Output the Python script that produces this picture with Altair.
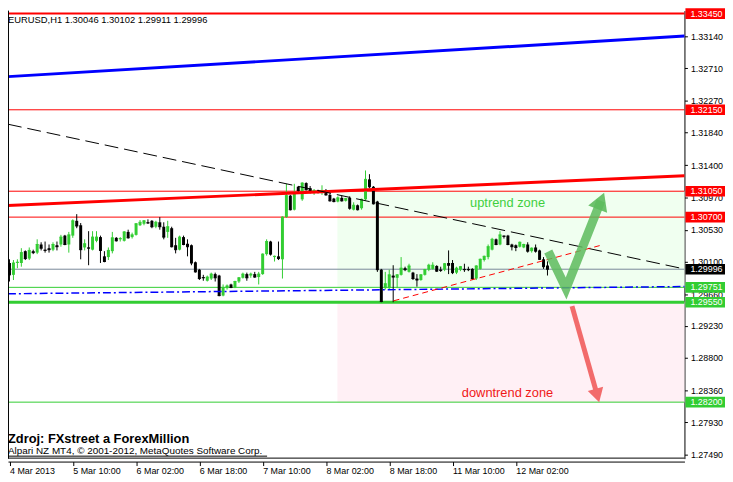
import json
import altair as alt
import pandas as pd

# ---------------- data ----------------
opens = [1.3008,1.2992,1.3008,1.3008,1.3024,1.3014,1.3024,1.3022,1.3033,1.3026,
         1.3028,1.3026,1.3032,1.3033,1.3045,1.3033,1.3045,1.3065,1.3059,1.3029,
         1.3029,1.3026,1.3038,1.3043,1.3017,1.3016,1.3024,1.3042,1.3040,1.3038,
         1.3050,1.3043,1.3046,1.3059,1.3061,1.3063,1.3065,1.3057,1.3063,1.3057,
         1.3050,1.3055,1.3032,1.3026,1.3043,1.3034,1.3032,1.3009,1.2999,1.2989,
         1.2984,1.2987,1.2993,1.2991,1.2964,1.2974,1.2979,1.2975,1.2983,1.2988,
         1.2993,1.2991,1.2993,1.2989,1.2993,1.3020,1.3037,1.3016,1.3017,1.3013,
         1.3070,1.3099,1.3080,1.3111,1.3094,1.3116,1.3109,1.3104,1.3106,1.3103,
         1.3106,1.3100,1.3095,1.3091,1.3096,1.3092,1.3096,1.3080,1.3086,1.3082,
         1.3094,1.3121,1.3111,1.3091,1.2999,1.2974,1.2974,1.2991,1.2988,1.2992,
         1.3001,1.2996,1.2995,1.2987,1.2985,1.2992,1.2999,1.3000,1.3004,1.2999,
         1.2999,1.3008,1.3008,1.2995,1.2999,1.3000,1.3000,1.3000,1.2987,1.3000,
         1.3012,1.3016,1.3026,1.3040,1.3033,1.3045,1.3045,1.3033,1.3032,1.3030,
         1.3029,1.3033,1.3024,1.3029,1.3025,1.3013,1.30046]
highs = [1.3013,1.3012,1.3013,1.3028,1.3025,1.3029,1.3026,1.3040,1.3036,1.3037,
         1.3033,1.3036,1.3037,1.3046,1.3046,1.3050,1.3067,1.3074,1.3062,1.3040,
         1.3051,1.3051,1.3051,1.3045,1.3024,1.3029,1.3050,1.3043,1.3043,1.3051,
         1.3053,1.3049,1.3062,1.3066,1.3066,1.3067,1.3066,1.3065,1.3070,1.3063,
         1.3065,1.3057,1.3042,1.3045,1.3045,1.3040,1.3033,1.3010,1.3000,1.2992,
         1.2991,1.2995,1.2995,1.2992,1.2979,1.2979,1.2980,1.2984,1.2989,1.2995,
         1.2995,1.2995,1.2996,1.2996,1.3021,1.3040,1.3038,1.3018,1.3037,1.3071,
         1.3115,1.3100,1.3115,1.3112,1.3117,1.3117,1.3112,1.3108,1.3107,1.3113,
         1.3108,1.3102,1.3096,1.3098,1.3099,1.3096,1.3098,1.3090,1.3087,1.3095,
         1.3133,1.3128,1.3112,1.3092,1.3000,1.2996,1.2999,1.3005,1.2993,1.3016,
         1.3003,1.3007,1.2996,1.2993,1.2993,1.3000,1.3007,1.3009,1.3005,1.3003,
         1.3008,1.3025,1.3012,1.3003,1.3004,1.3007,1.3003,1.3001,1.3005,1.3014,
         1.3018,1.3033,1.3042,1.3041,1.3051,1.3045,1.3046,1.3034,1.3033,1.3037,
         1.3034,1.3036,1.3029,1.3033,1.3026,1.3016,1.30102]
lows = [1.2983,1.2985,1.3001,1.3003,1.3012,1.3012,1.3020,1.3020,1.3025,1.3022,
        1.3022,1.3024,1.3025,1.3030,1.3032,1.3022,1.3042,1.3055,1.3013,1.3025,
        1.3005,1.3025,1.3036,1.3008,1.3009,1.3012,1.3021,1.3037,1.3037,1.3037,
        1.3041,1.3041,1.3045,1.3058,1.3059,1.3061,1.3055,1.3055,1.3053,1.3040,
        1.3042,1.3029,1.3021,1.3025,1.3032,1.3017,1.3005,1.2995,1.2985,1.2984,
        1.2983,1.2985,1.2983,1.2963,1.2963,1.2972,1.2974,1.2974,1.2981,1.2987,
        1.2984,1.2988,1.2988,1.2979,1.2992,1.3018,1.3018,1.3010,1.3012,1.2987,
        1.3069,1.3079,1.3079,1.3102,1.3092,1.3106,1.3102,1.3100,1.3102,1.3100,
        1.3099,1.3091,1.3090,1.3090,1.3091,1.3091,1.3080,1.3079,1.3079,1.3080,
        1.3092,1.3109,1.3087,1.2996,1.2955,1.2972,1.2972,1.2955,1.2974,1.2991,
        1.2997,1.2995,1.2985,1.2976,1.2984,1.2991,1.2997,1.2999,1.2996,1.2996,
        1.2997,1.2993,1.2993,1.2993,1.2997,1.2996,1.2997,1.2985,1.2985,1.2999,
        1.3010,1.3013,1.3025,1.3032,1.3032,1.3041,1.3032,1.3025,1.3024,1.3029,
        1.3028,1.3022,1.3022,1.3022,1.3012,1.3000,1.29911]
closes = [1.2992,1.3008,1.3009,1.3022,1.3014,1.3025,1.3022,1.3033,1.3028,1.3025,
          1.3026,1.3033,1.3030,1.3043,1.3033,1.3046,1.3065,1.3058,1.3026,1.3034,
          1.3028,1.3043,1.3043,1.3025,1.3010,1.3025,1.3042,1.3038,1.3041,1.3050,
          1.3042,1.3046,1.3061,1.3063,1.3065,1.3062,1.3057,1.3063,1.3057,1.3043,
          1.3057,1.3030,1.3026,1.3043,1.3033,1.3030,1.3008,1.2996,1.2987,1.2988,
          1.2989,1.2993,1.2988,1.2964,1.2975,1.2977,1.2975,1.2983,1.2988,1.2993,
          1.2988,1.2993,1.2989,1.2993,1.3020,1.3037,1.3020,1.3017,1.3014,1.3070,
          1.3099,1.3080,1.3103,1.3106,1.3116,1.3107,1.3106,1.3106,1.3104,1.3106,
          1.3100,1.3092,1.3091,1.3096,1.3092,1.3095,1.3082,1.3086,1.3080,1.3094,
          1.3121,1.3111,1.3088,1.2999,1.2956,1.2980,1.2992,1.2989,1.2992,1.3001,
          1.2999,1.3004,1.2987,1.2985,1.2992,1.2999,1.3005,1.3005,1.2997,1.2998,
          1.3007,1.3005,1.2995,1.3001,1.3003,1.2999,1.2999,1.2987,1.3004,1.3013,
          1.3017,1.3030,1.3040,1.3033,1.3046,1.3044,1.3033,1.3030,1.3029,1.3036,
          1.3033,1.3024,1.3028,1.3024,1.3013,1.3003,1.29996]

x_tick_pos = [0, 16, 32, 48, 64, 80, 96, 112, 128]
x_tick_labels = ["4 Mar 2013", "5 Mar 10:00", "6 Mar 02:00", "6 Mar 18:00", "7 Mar 10:00",
                 "8 Mar 02:00", "8 Mar 18:00", "11 Mar 10:00", "12 Mar 02:00"]
y_tick_values = [1.33140, 1.32710, 1.32270, 1.31840, 1.31400, 1.30970, 1.30530,
                 1.30100, 1.29660, 1.29230, 1.28800, 1.28360, 1.27930, 1.27490]

level_prices = [1.33450, 1.32150, 1.31050, 1.30700, 1.29996, 1.29751, 1.29550, 1.28200]
level_colors = ["#FF0000", "#FF0000", "#FF0000", "#FF0000", "#778899", "#32CD32", "#32CD32", "#32CD32"]
level_widths = [2, 1, 1, 1, 1, 1, 3, 1]
box_colors = ["#FF0000", "#FF0000", "#FF0000", "#FF0000", "#000000", "#32CD32", "#32CD32", "#32CD32"]

line_x1 = [-0.375, -0.375, -0.375, -0.375, 97.1]
line_p1 = [1.32598, 1.30856, 1.31955, 1.29664, 1.29569]
line_x2 = [170.625, 170.625, 170.625, 170.625, 149.2]
line_p2 = [1.33146, 1.31259, 1.29999, 1.29762, 1.30315]
line_colors = ["#0000FF", "#FF0000", "#000000", "#0000FF", "#FF0000"]
line_widths = [3, 3, 1, 1.5, 1]
line_dashes = [None, None, [14, 6], [8, 3, 2, 3], [6, 4]]

zone_x1 = [82.9, 82.9]
zone_x2 = [170.625, 170.625]
zone_top = [1.31050, 1.29550]
zone_bottom = [1.29751, 1.28200]
zone_colors = ["#F0FFF0", "#FFF0F5"]
zone_labels = ["uptrend zone", "downtrend zone"]
zone_label_x = [125.9, 125.9]
zone_label_p = [1.30896, 1.28322]
zone_label_colors = ["#3ECF3E", "#F01818"]

v_idx = [136.2, 140.7, 149.5]
v_price = [1.30236, 1.29735, 1.30918]
r_idx = [142.2, 148.6]
r_price = [1.29497, 1.28290]

header = "EURUSD,H1  1.30046 1.30102 1.29911 1.29996"
source_text = "Zdroj: FXstreet a ForexMillion"
credit_text = "Alpari NZ MT4, \u00a9 2001-2012, MetaQuotes Software Corp."

# ---------------- chart ----------------
FONT = "Liberation Sans"
W, H = 684, 453
XS = alt.Scale(domain=[-0.375, 170.625], nice=False, zero=False)
YS = alt.Scale(domain=[1.27437, 1.33490], nice=False, zero=False)

x_axis = alt.Axis(values=x_tick_pos,
                  labelExpr=f"{json.dumps(x_tick_labels)}[indexof({json.dumps(x_tick_pos)}, datum.value)]",
                  orient="bottom", offset=3, tickSize=4, tickColor="black", domainColor="black",
                  labelColor="black", labelFont=FONT, labelFontSize=9, labelAlign="left", labelPadding=1,
                  labelFlush=False, labelOverlap=False, grid=False, title=None, zindex=0)
y_axis = alt.Axis(values=y_tick_values, format=".5f", orient="right", tickSize=3, tickColor="black",
                  domainColor="black", labelColor="black", labelFont=FONT, labelFontSize=9, labelPadding=3,
                  labelFlush=False, labelOverlap=False, grid=False, title=None, zindex=0)


def X(f):
    return alt.X(f, type="quantitative", scale=XS, axis=x_axis)


def Y(f):
    return alt.Y(f, type="quantitative", scale=YS, axis=y_axis)


candles = pd.DataFrame({"i": list(range(len(opens))), "o": opens, "h": highs, "l": lows, "c": closes})
candles["col"] = ["#32CD32" if c > o else "#000000" for o, c in zip(opens, closes)]

layers = []

zones = pd.DataFrame({"x1": zone_x1, "x2": zone_x2, "top": zone_top, "bot": zone_bottom, "col": zone_colors})
layers.append(alt.Chart(zones).mark_rect().encode(
    x=X("x1"), x2=alt.X2("x2"), y=Y("top"), y2=alt.Y2("bot"), color=alt.Color("col:N", scale=None)))

zl = pd.DataFrame({"x": zone_label_x, "p": zone_label_p, "t": zone_labels, "col": zone_label_colors})
layers.append(alt.Chart(zl).mark_text(font=FONT, fontSize=13, align="center", baseline="middle").encode(
    x=X("x"), y=Y("p"), text="t:N", color=alt.Color("col:N", scale=None)))

levels = pd.DataFrame({"p": level_prices, "col": level_colors, "w": level_widths})
layers.append(alt.Chart(levels).mark_rule().encode(
    y=Y("p"), color=alt.Color("col:N", scale=None), strokeWidth=alt.StrokeWidth("w:Q", scale=None)))

base = alt.Chart(candles)
layers.append(base.mark_rule(strokeWidth=1).encode(
    x=X("i"), y=Y("l"), y2=alt.Y2("h"), color=alt.Color("col:N", scale=None)))
layers.append(base.mark_rule(strokeWidth=3, strokeCap="butt").encode(
    x=X("i"), y=Y("o"), y2=alt.Y2("c"), color=alt.Color("col:N", scale=None)))
layers.append(base.mark_point(shape="stroke", size=9, filled=False, strokeWidth=1, opacity=1).encode(
    x=X("i"), y=Y("c"), color=alt.Color("col:N", scale=None)))

for k in range(len(line_x1)):
    df = pd.DataFrame({"x1": [line_x1[k]], "y1": [line_p1[k]], "x2": [line_x2[k]], "y2": [line_p2[k]]})
    kw = dict(color=line_colors[k], strokeWidth=line_widths[k])
    if line_dashes[k]:
        kw["strokeDash"] = line_dashes[k]
    layers.append(alt.Chart(df).mark_rule(**kw).encode(
        x=X("x1"), y=Y("y1"), x2=alt.X2("x2"), y2=alt.Y2("y2")))

vdf = pd.DataFrame({"i": v_idx, "p": v_price, "ord": [0, 1, 2]})
layers.append(alt.Chart(vdf).mark_line(color="#5DBB5D", strokeWidth=9, opacity=0.85,
                                       strokeCap="butt", strokeJoin="miter").encode(
    x=X("i"), y=Y("p"), order="ord:Q"))
layers.append(alt.Chart(vdf.tail(1)).mark_point(shape="triangle-up", filled=True, size=420, angle=21.5,
                                                color="#5DBB5D", opacity=0.9).encode(x=X("i"), y=Y("p")))

rdf = pd.DataFrame({"i": r_idx, "p": r_price, "ord": [0, 1]})
layers.append(alt.Chart(rdf).mark_line(color="#F26B6B", strokeWidth=5, strokeCap="butt").encode(
    x=X("i"), y=Y("p"), order="ord:Q"))
layers.append(alt.Chart(rdf.tail(1)).mark_point(shape="triangle-up", filled=True, size=260, angle=164.4,
                                                color="#F26B6B", opacity=1).encode(x=X("i"), y=Y("p")))

boxes = pd.DataFrame({"p": level_prices, "col": box_colors,
                      "t": [f"{v:.5f}" for v in level_prices]})
boxes_chart = alt.Chart(boxes).transform_calculate(lo="datum.p - 0.00072", hi="datum.p + 0.00072")
layers.append(boxes_chart.mark_rect().encode(
    x=alt.value(685), x2=alt.value(725), y=Y("lo:Q"), y2=alt.Y2("hi:Q"), color=alt.Color("col:N", scale=None)))
layers.append(alt.Chart(boxes).mark_text(font=FONT, fontSize=9, align="left", baseline="middle",
                                         color="white").encode(x=alt.value(690), y=Y("p"), text="t:N"))

txt = pd.DataFrame({"t": [header, source_text, credit_text]})
layers.append(alt.Chart(txt.iloc[[0]]).mark_text(font=FONT, fontSize=9.5, align="left", baseline="alphabetic",
                                                 color="black").encode(x=alt.value(0), y=alt.value(13), text="t:N"))
layers.append(alt.Chart(txt.iloc[[1]]).mark_text(font=FONT, fontSize=13, fontWeight="bold", align="left",
                                                 baseline="alphabetic", color="black").encode(
    x=alt.value(0), y=alt.value(437), text="t:N"))
layers.append(alt.Chart(txt.iloc[[2]]).mark_text(font=FONT, fontSize=10, align="left", baseline="alphabetic",
                                                 color="black").encode(x=alt.value(0), y=alt.value(448), text="t:N"))

frame = pd.DataFrame({"a": [0]})
layers.append(alt.Chart(frame).mark_rule(color="black", strokeWidth=1).encode(
    x=alt.value(0.5), y=alt.value(0), y2=alt.value(H)))
layers.append(alt.Chart(frame).mark_rule(color="black", strokeWidth=1).encode(
    x=alt.value(0), x2=alt.value(W), y=alt.value(H - 0.5)))
layers.append(alt.Chart(frame).mark_rule(color="black", strokeWidth=1).encode(
    x=alt.value(0), x2=alt.value(262), y=alt.value(450.5)))

chart = alt.layer(*layers).properties(
    width=W, height=H,
    autosize=alt.AutoSizeParams(type="none"),
    padding={"left": 0, "top": 0, "right": 41, "bottom": 21},
    background="white",
).configure_view(stroke=None)

chart.save("out.html", embed_options={"renderer": "svg", "actions": False})
